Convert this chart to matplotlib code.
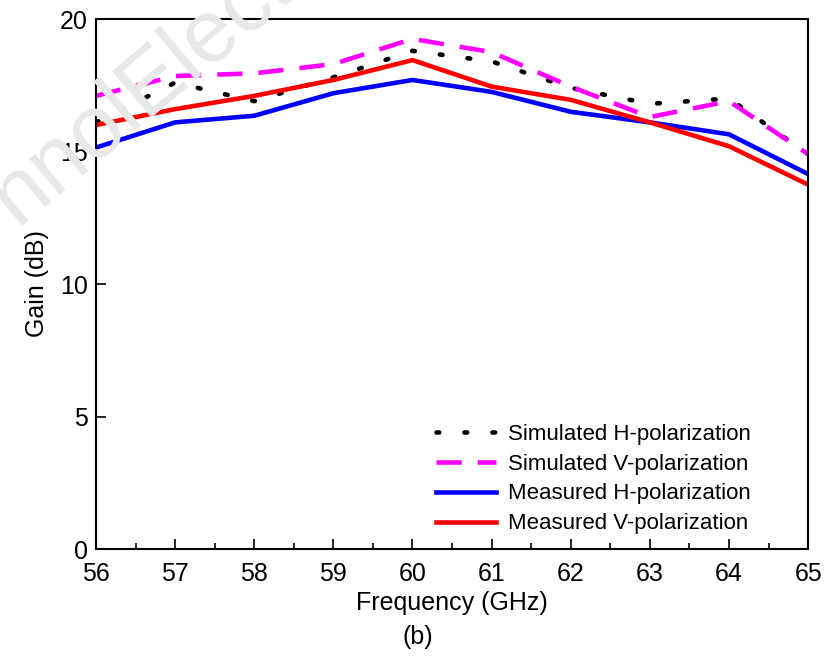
import matplotlib.pyplot as plt
from matplotlib.ticker import MultipleLocator

plt.rcParams['font.family'] = ['Liberation Sans', 'DejaVu Sans']

freq = [56, 57, 58, 59, 60, 61, 62, 63, 64, 65]
sim_h = [16.1, 17.6, 16.9, 17.8, 18.8, 18.4, 17.4, 16.8, 17.0, 14.9]
sim_v = [17.1, 17.85, 17.95, 18.3, 19.25, 18.75, 17.45, 16.3, 16.9, 14.9]
meas_h = [15.15, 16.1, 16.35, 17.2, 17.7, 17.25, 16.5, 16.1, 15.65, 14.15]
meas_v = [16.0, 16.6, 17.1, 17.7, 18.45, 17.45, 16.95, 16.1, 15.2, 13.75]

fig = plt.figure(figsize=(8.31, 6.56), dpi=100)
ax = fig.add_axes([0.1155, 0.163, 0.857, 0.808])
ax.patch.set_alpha(0)

# watermark
fig.text(0.02, 0.655, "nnolElectron", fontsize=64, color="#e8e8e8",
         rotation=40, rotation_mode="anchor", ha="left", va="baseline", zorder=0)

ax.plot(freq, sim_h, color="black", lw=3.3, dashes=(0.6, 5.5),
        dash_capstyle="round", label="Simulated H-polarization")
ax.plot(freq, sim_v, color="#ff00ff", lw=3.3, dashes=(5.5, 3.5),
        label="Simulated V-polarization")
ax.plot(freq, meas_h, color="#0000ff", lw=3.3, label="Measured H-polarization")
ax.plot(freq, meas_v, color="#ff0000", lw=3.3, label="Measured V-polarization")

ax.set_xlim(56, 65)
ax.set_ylim(0, 20)
ax.xaxis.set_major_locator(MultipleLocator(1))
ax.xaxis.set_minor_locator(MultipleLocator(0.5))
ax.yaxis.set_major_locator(MultipleLocator(5))
ax.tick_params(which="both", direction="in", labelsize=18, width=1.2)
ax.tick_params(which="major", length=7)
ax.tick_params(axis="x", which="major", pad=9)
ax.tick_params(axis="y", which="major", pad=6)
ax.tick_params(which="minor", length=4)
for s in ax.spines.values():
    s.set_linewidth(1.5)

ax.set_xlabel("Frequency (GHz)", fontsize=18, labelpad=4)
ax.set_ylabel("Gain (dB)", fontsize=18, labelpad=8)
fig.text(0.503, 0.029, "(b)", fontsize=18, ha="center", va="center")

ax.legend(loc="lower right", bbox_to_anchor=(0.947, -0.01), frameon=False,
          fontsize=16, handlelength=2.7, handletextpad=0.5, labelspacing=0.4)

fig.savefig("out.png", dpi=100)
